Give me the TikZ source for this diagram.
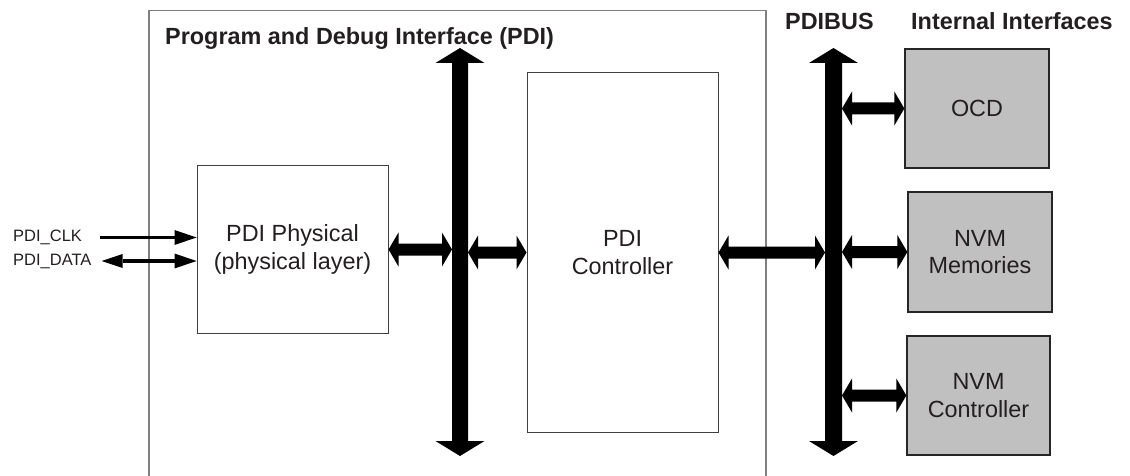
\documentclass[tikz,border=0pt]{standalone}
\usepackage{fontspec}
\setmainfont{Liberation Sans}
\usetikzlibrary{arrows.meta,calc}
\definecolor{txt}{HTML}{231F20}
\definecolor{boxgray}{HTML}{C0C0C0}
\definecolor{framegray}{HTML}{808080}
\tikzset{
  plain/.style={draw=black!75, line width=1pt, fill=white, inner sep=0pt,
    font=\fontsize{23.4}{27.5}\selectfont, text=txt, align=center},
  iface/.style={plain, fill=boxgray, draw=black!85, line width=1.3pt},
  fatarrow/.style={fill=black},
  sig/.style={line width=3.5pt, -{Triangle[length=22pt 0 0,width=15pt 0,line width=0pt 0 0]}},
  sigboth/.style={line width=3.5pt,
    {Triangle[length=21pt 0 0,width=14pt 0,line width=0pt 0 0]}-{Triangle[length=22pt 0 0,width=15pt 0,line width=0pt 0 0]}},
  heading/.style={font=\bfseries\fontsize{23.4}{28}\selectfont, text=txt, inner sep=0pt, anchor=base west},
  siglabel/.style={font=\fontsize{16.5}{19}\selectfont, text=txt, inner sep=0pt, anchor=west},
}
% horizontal double arrow between named coordinates #1 (left tip) and #2 (right tip)
% #3 shaft half-thickness, #4 head half-width, #5 head length
\newcommand{\hfat}[5]{%
  \fill[fatarrow] (#1) -- ($(#1)+(#5,-#4)$) -- ($(#1)+(#5,-#3)$) -- ($(#2)+(-#5,-#3)$)
    -- ($(#2)+(-#5,-#4)$) -- (#2) -- ($(#2)+(-#5,#4)$) -- ($(#2)+(-#5,#3)$)
    -- ($(#1)+(#5,#3)$) -- ($(#1)+(#5,#4)$) -- cycle;}
% vertical double arrow between #1 (top tip) and #2 (bottom tip)
\newcommand{\vfat}[5]{%
  \fill[fatarrow] (#1) -- ($(#1)+(#4,#5)$) -- ($(#1)+(#3,#5)$) -- ($(#2)+(#3,-#5)$)
    -- ($(#2)+(#4,-#5)$) -- (#2) -- ($(#2)+(-#4,-#5)$) -- ($(#2)+(-#3,-#5)$)
    -- ($(#1)+(-#3,#5)$) -- ($(#1)+(-#4,#5)$) -- cycle;}
\begin{document}
\begin{tikzpicture}[x=1pt,y=-1pt]
\useasboundingbox (0,0) rectangle (1130,476);
% outer frame
\draw[framegray, line width=1.5pt] (149,477) -- (149,10.5) -- (766,10.5) -- (766,477);
% headings
\node[heading] (title) at (165,45) {Program and Debug Interface (PDI)};
\node[heading] (pdibus) at (785,30) {PDIBUS};
\node[heading] (intf) at (911,30) {Internal Interfaces};
% blocks
\node[plain, minimum width=191pt, minimum height=167pt] (phys) at (292.5,249.5) {PDI Physical\\(physical layer)};
\node[plain, minimum width=191pt, minimum height=359pt] (ctrl) at (622.5,252.5) {PDI\\Controller};
\node[iface, minimum width=144pt, minimum height=119pt] (ocd) at (977,108.5) {OCD};
\node[iface, minimum width=144pt, minimum height=120pt] (mem) at (980,252) {NVM\\Memories};
\node[iface, minimum width=143pt, minimum height=119pt] (nvmc) at (978.5,395.5) {NVM\\Controller};
% signal labels
\node[siglabel] (clk) at (13,237.5) {PDI\_CLK};
\node[siglabel] (data) at (13,261) {PDI\_DATA};
% buses
\coordinate (b1t) at (460,48);
\coordinate (b1b) at (460,456);
\coordinate (b2t) at (833.5,48);
\coordinate (b2b) at (833.5,456);
\coordinate (b1L) at (452,0);
\coordinate (b1R) at (468,0);
\coordinate (b2L) at (825,0);
\coordinate (b2R) at (842,0);
\vfat{b1t}{b1b}{8}{24.5}{15}
\vfat{b2t}{b2b}{8.5}{24.5}{15}
% links
\coordinate (l1a) at (phys.east);
\coordinate (l1b) at (phys.east -| b1L);
\coordinate (l2a) at (ctrl.west -| b1R);
\coordinate (l2b) at (ctrl.west);
\coordinate (l3a) at (ctrl.east);
\coordinate (l3b) at (ctrl.east -| b2L);
\coordinate (l4a) at (ocd.west -| b2R);
\coordinate (l4b) at (ocd.west);
\coordinate (l5a) at (mem.west -| b2R);
\coordinate (l5b) at (mem.west);
\coordinate (l6a) at (nvmc.west -| b2R);
\coordinate (l6b) at (nvmc.west);
\hfat{l1a}{l1b}{6}{17}{10}
\hfat{l2a}{l2b}{6}{17}{10}
\hfat{l3a}{l3b}{6}{17}{10}
\hfat{l4a}{l4b}{6}{17}{10}
\hfat{l5a}{l5b}{6}{17}{10}
\hfat{l6a}{l6b}{6}{17}{10}
% signals
\draw[sig] ([xshift=18pt]clk.east) -- (phys.west |- clk.east);
\draw[sigboth] ([xshift=10pt]data.east) -- (phys.west |- data.east);
\end{tikzpicture}
\end{document}
